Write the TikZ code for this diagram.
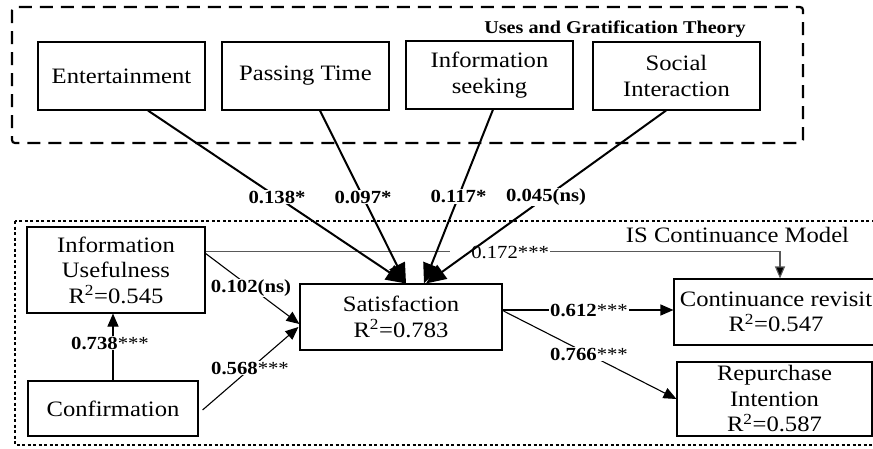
\documentclass[tikz,border=0pt]{standalone}
\usepackage{fontspec}
\setmainfont{Liberation Serif}[FakeStretch=1.12]
\usetikzlibrary{arrows.meta,calc}
\begin{document}
\begin{tikzpicture}[x=1pt,y=-1pt,
 box/.style={draw, line width=1.1pt, inner sep=0pt, align=center, font=\fontsize{22}{25.5}\selectfont},
 lbl/.style={fill=white, inner sep=1pt, font=\fontsize{18.5}{20}\selectfont\bfseries},
 bigarrow/.style={line width=2pt, -{Triangle[length=20pt,width=17pt]}},
 smallarrow/.style={line width=1.1pt, -{Triangle[length=13pt,width=11pt]}},
]
\useasboundingbox (0,0) rectangle (873,448);
\clip (0,0) rectangle (873,448);

% group frames
\draw[line width=2.2pt, dash pattern=on 13pt off 8pt, rounded corners=3pt] (12,7) rectangle (803,143);
\draw[line width=1.8pt, dash pattern=on 3pt off 2.5pt] (15,221) rectangle (900,445);

\node[font=\fontsize{18}{20}\selectfont\bfseries, anchor=base east, inner sep=0pt] (ugt) at (746,33) {Uses and Gratification Theory};
\node[font=\fontsize{22}{24}\selectfont, inner sep=0pt] (ism) at (737.5,235) {IS Continuance Model};

% upper boxes
\node[box, minimum width=167pt, minimum height=68pt] (ent) at (121.5,76) {Entertainment};
\node[box, minimum width=167pt, minimum height=68pt] (pas) at (305.5,76) {Passing Time};
\node[box, minimum width=167pt, minimum height=68pt] (inf) at (489.5,75) {Information\\seeking};
\node[box, minimum width=167pt, minimum height=68pt] (soc) at (676.5,76) {Social\\Interaction};

% lower boxes
\node[box, minimum width=178pt, minimum height=86pt] (iu) at (116,270) {Information\\Usefulness\\R\textsuperscript{2}=0.545};
\node[box, minimum width=170pt, minimum height=55pt] (conf) at (113,408.5) {Confirmation};
\node[box, minimum width=202pt, minimum height=66pt] (sat) at (401,317) {Satisfaction\\R\textsuperscript{2}=0.783};
\node[box, minimum width=204pt, minimum height=66pt] (cont) at (776,312) {Continuance revisit\\R\textsuperscript{2}=0.547};
\node[box, minimum width=195pt, minimum height=74pt] (rep) at (774.5,399) {Repurchase\\Intention\\R\textsuperscript{2}=0.587};

% IS continuance model paths
\draw[line width=1.1pt, draw=black!65, -{Triangle[length=12pt,width=10pt,fill=black]}]
  ($(iu.north east)+(0,25)$) -| ($(cont.north)+(4,0)$);
\node[fill=white, inner sep=1pt, text width=98pt, align=right, font=\fontsize{18.5}{20}\selectfont] (l172) at (500,252) {0.172***};

\draw[smallarrow] ($(iu.north east)+(0,27)$) -- ($(sat.west)+(0,7)$);
\node[lbl] (l102) at (251,288) {0.102(ns)};
\draw[smallarrow] ($(conf.east)+(4,1.5)$) -- ($(sat.west)+(-1,10)$);
\node[lbl] (l568) at (250,368) {0.568\textmd{***}};
\draw[smallarrow] (conf.north) -- (conf.north |- iu.south);
\node[lbl] (l738) at (110,343) {0.738\textmd{***}};
\draw[smallarrow] ($(sat.east)+(0,-7)$) -- ($(cont.west)+(0,-2)$);
\node[lbl] (l612) at (589,310) {0.612\textmd{***}};
\draw[smallarrow] ($(sat.east)+(1,-6)$) -- (rep.west);
\node[lbl] (l766) at (589,354) {0.766\textmd{***}};

% uses and gratification paths
\coordinate (tipA) at ($(sat.north)+(5,0)$);
\coordinate (tipB) at ($(sat.north)+(23,0)$);
\draw[bigarrow] ($(ent.south)+(26.5,0)$) -- (tipA) node[lbl, pos=0.5] (l138) {0.138*};
\draw[bigarrow] ($(pas.south)+(14.5,0)$) -- (tipA) node[lbl, pos=0.5] (l097) {0.097*};
\draw[bigarrow] ($(inf.south)+(3.5,0)$) -- (tipB) node[lbl, pos=0.5] (l117) {0.117*};
\draw[bigarrow] ($(soc.south)+(-10.5,0)$) -- ($(tipB)+(2,0)$) node[lbl, pos=0.5] (l045) {0.045(ns)};
\end{tikzpicture}
\end{document}
